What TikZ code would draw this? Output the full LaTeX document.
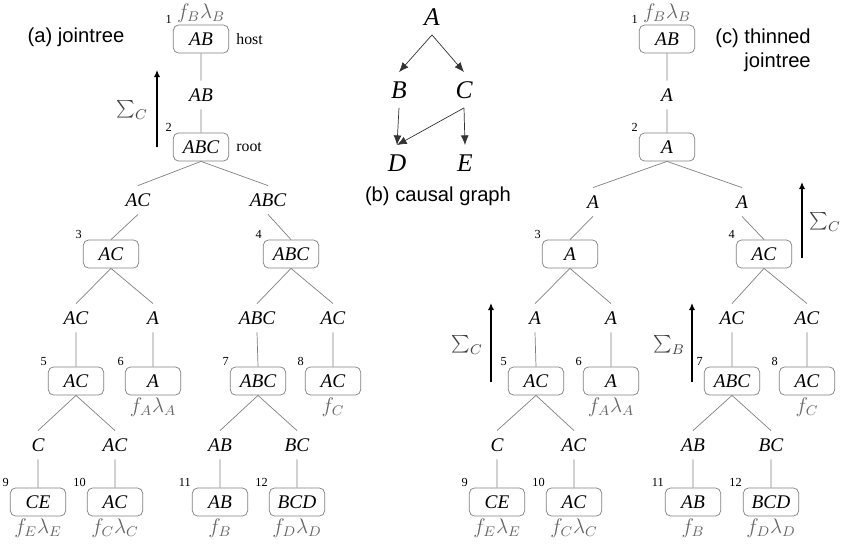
\documentclass[tikz,border=0pt]{standalone}
\usepackage{fontspec}
\setmainfont{Liberation Serif}
\setsansfont{Liberation Sans}
\usetikzlibrary{arrows.meta}

\begin{document}
\begin{tikzpicture}[x=0.02cm,y=-0.02cm,thin,
 jt node/.style={draw=black!50,rounded corners=3pt,minimum width=31.5pt,
   minimum height=16pt,inner sep=1pt,font=\fontsize{11}{12}\selectfont\itshape},
 sep node/.style={minimum height=16pt,inner sep=1pt,font=\fontsize{11}{12}\selectfont\itshape},
 var node/.style={minimum height=20pt,inner sep=1pt,font=\fontsize{14.5}{16}\selectfont\itshape},
 num/.style={font=\fontsize{7}{8}\selectfont,inner sep=0.5pt},
 flab/.style={font=\fontsize{12}{14}\selectfont,text=black!60,inner sep=1pt},
 side/.style={font=\fontsize{9}{11}\selectfont,inner sep=1pt,label distance=3pt},
 caption/.style={font=\fontsize{11.5}{13.6}\selectfont\sffamily},
 sum/.style={font=\fontsize{12}{14}\selectfont,text=black!75},
 tree line/.style={draw=black!50},
 causal/.style={draw=black!80,-{Latex[length=5.5pt,width=4.5pt]}},
 sum arrow/.style={line width=0.75pt,-{Latex[length=4pt,width=3.5pt]}}]

  \useasboundingbox (0,0) rectangle (842,550);

  % (a) jointree
  \node[caption] (capa) at (76,37) {(a) jointree};
  \node[jt node,label={[num]north west:1},label={[flab]above:$f_B\lambda_B$},
    label={[side]right:host}] (a1) at (201,39) {AB};
  \node[sep node] (sa12) at (201,95) {AB};
  \node[jt node,label={[num]north west:2},label={[side]right:root}] (a2) at (201,147) {ABC};
  \node[sep node] (sa23) at (138,200) {AC};
  \node[sep node] (sa24) at (268,200) {ABC};
  \node[jt node,label={[num]north west:3}] (a3) at (111,254) {AC};
  \node[jt node,label={[num]north west:4}] (a4) at (291,254) {ABC};
  \node[sep node] (sa35) at (76,318) {AC};
  \node[sep node] (sa36) at (153,318) {A};
  \node[sep node] (sa47) at (257,318) {ABC};
  \node[sep node] (sa48) at (333,318) {AC};
  \node[jt node,label={[num]north west:5}] (a5) at (76,381) {AC};
  \node[jt node,label={[num]north west:6},label={[flab]below:$f_A\lambda_A$}] (a6) at (153,381) {A};
  \node[jt node,label={[num]north west:7}] (a7) at (258,381) {ABC};
  \node[jt node,label={[num]north west:8},label={[flab]below:$f_C$}] (a8) at (333,381) {AC};
  \node[sep node] (sa59) at (38,445) {C};
  \node[sep node] (sa510) at (115,445) {AC};
  \node[sep node] (sa711) at (220,445) {AB};
  \node[sep node] (sa712) at (297,445) {BC};
  \node[jt node,label={[num]north west:9},label={[flab]below:$f_E\lambda_E$}] (a9) at (38,502) {CE};
  \node[jt node,label={[num]north west:10},label={[flab]below:$f_C\lambda_C$}] (a10) at (115,502) {AC};
  \node[jt node,label={[num]north west:11},label={[flab]below:$f_B$}] (a11) at (220,502) {AB};
  \node[jt node,label={[num]north west:12},label={[flab]below:$f_D\lambda_D$}] (a12) at (297,502) {BCD};

  \draw[tree line] (a1.south) -- (sa12.north) (sa12.south) -- (a2.north)
    (a2.south) -- (sa23.north) (sa23.south) -- (a3.north)
    (a2.south) -- (sa24.north) (sa24.south) -- (a4.north)
    (a3.south) -- (sa35.north) (sa35.south) -- (a5.north)
    (a3.south) -- (sa36.north) (sa36.south) -- (a6.north)
    (a4.south) -- (sa47.north) (sa47.south) -- (a7.north)
    (a4.south) -- (sa48.north) (sa48.south) -- (a8.north)
    (a5.south) -- (sa59.north) (sa59.south) -- (a9.north)
    (a5.south) -- (sa510.north) (sa510.south) -- (a10.north)
    (a7.south) -- (sa711.north) (sa711.south) -- (a11.north)
    (a7.south) -- (sa712.north) (sa712.south) -- (a12.north);

  \node[sum] (suma) at (132,110) {$\sum_C$};
  \coordinate (suma0) at (157,147);
  \coordinate (suma1) at (157,70);
  \draw[sum arrow] (suma0) -- (suma1);

  % (b) causal graph
  \node[var node] (A) at (432,17) {A};
  \node[var node] (B) at (399,90) {B};
  \node[var node] (C) at (464,90) {C};
  \node[var node] (D) at (397,163) {D};
  \node[var node] (E) at (465,163) {E};
  \node[caption] (capb) at (438,196) {(b) causal graph};

  \draw[causal] (A.south) -- (B.north);
  \draw[causal] (A.south) -- (C.north);
  \draw[causal] (B.south) -- (D.north);
  \draw[causal] (C.south) -- (D.north);
  \draw[causal] (C.south) -- (E.north);

  % (c) thinned jointree
  \node[caption,align=right] (capc) at (763,50) {(c) thinned\\jointree};
  \node[jt node,label={[num]north west:1},label={[flab]above:$f_B\lambda_B$}] (c1) at (667,39) {AB};
  \node[sep node] (sc12) at (667,95) {A};
  \node[jt node,label={[num]north west:2}] (c2) at (667,147) {A};
  \node[sep node] (sc23) at (593,202) {A};
  \node[sep node] (sc24) at (742,202) {A};
  \node[jt node,label={[num]north west:3}] (c3) at (570,254) {A};
  \node[jt node,label={[num]north west:4}] (c4) at (764,254) {AC};
  \node[sep node] (sc35) at (535,318) {A};
  \node[sep node] (sc36) at (611,318) {A};
  \node[sep node] (sc47) at (732,318) {AC};
  \node[sep node] (sc48) at (807,318) {AC};
  \node[jt node,label={[num]north west:5}] (c5) at (536,381) {AC};
  \node[jt node,label={[num]north west:6},label={[flab]below:$f_A\lambda_A$}] (c6) at (611,381) {A};
  \node[jt node,label={[num]north west:7}] (c7) at (732,381) {ABC};
  \node[jt node,label={[num]north west:8},label={[flab]below:$f_C$}] (c8) at (807,381) {AC};
  \node[sep node] (sc59) at (497,445) {C};
  \node[sep node] (sc510) at (574,445) {AC};
  \node[sep node] (sc711) at (693,445) {AB};
  \node[sep node] (sc712) at (771,445) {BC};
  \node[jt node,label={[num]north west:9},label={[flab]below:$f_E\lambda_E$}] (c9) at (497,502) {CE};
  \node[jt node,label={[num]north west:10},label={[flab]below:$f_C\lambda_C$}] (c10) at (574,502) {AC};
  \node[jt node,label={[num]north west:11},label={[flab]below:$f_B$}] (c11) at (693,502) {AB};
  \node[jt node,label={[num]north west:12},label={[flab]below:$f_D\lambda_D$}] (c12) at (771,502) {BCD};

  \draw[tree line] (c1.south) -- (sc12.north) (sc12.south) -- (c2.north)
    (c2.south) -- (sc23.north) (sc23.south) -- (c3.north)
    (c2.south) -- (sc24.north) (sc24.south) -- (c4.north)
    (c3.south) -- (sc35.north) (sc35.south) -- (c5.north)
    (c3.south) -- (sc36.north) (sc36.south) -- (c6.north)
    (c4.south) -- (sc47.north) (sc47.south) -- (c7.north)
    (c4.south) -- (sc48.north) (sc48.south) -- (c8.north)
    (c5.south) -- (sc59.north) (sc59.south) -- (c9.north)
    (c5.south) -- (sc510.north) (sc510.south) -- (c10.north)
    (c7.south) -- (sc711.north) (sc711.south) -- (c11.north)
    (c7.south) -- (sc712.north) (sc712.south) -- (c12.north);

  \node[sum] (sumc1) at (825,222) {$\sum_C$};
  \coordinate (sumc10) at (802,258);
  \coordinate (sumc11) at (802,182);
  \draw[sum arrow] (sumc10) -- (sumc11);

  \node[sum] (sumc2) at (467,345) {$\sum_C$};
  \coordinate (sumc20) at (491,382);
  \coordinate (sumc21) at (491,303);
  \draw[sum arrow] (sumc20) -- (sumc21);

  \node[sum] (sumc3) at (669,345) {$\sum_B$};
  \coordinate (sumc30) at (692,382);
  \coordinate (sumc31) at (692,303);
  \draw[sum arrow] (sumc30) -- (sumc31);
\end{tikzpicture}
\end{document}
